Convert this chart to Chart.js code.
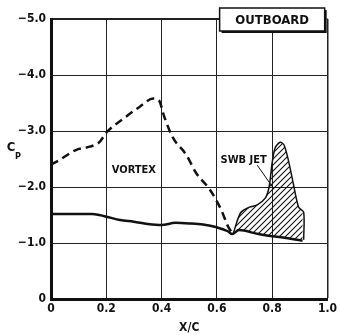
<!DOCTYPE html>
<html>
<head>
<meta charset="utf-8">
<script src="https://cdn.jsdelivr.net/npm/chart.js"></script>
<style>
  html, body { margin: 0; padding: 0; background: #fff; }
  #wrap { width: 340px; height: 335px; }
</style>
</head>
<body>
<div id="wrap"><canvas id="chart"></canvas></div>
<script>
// surface pressure, solid line
var surfX = [0, 0.1, 0.15, 0.2, 0.25, 0.3, 0.35, 0.4, 0.45, 0.5, 0.55, 0.6, 0.64, 0.655, 0.68, 0.75, 0.8, 0.85, 0.91];
var surfCp = [-1.52, -1.52, -1.52, -1.47, -1.41, -1.38, -1.34, -1.32, -1.36, -1.35, -1.33, -1.28, -1.21, -1.16, -1.23, -1.16, -1.12, -1.09, -1.04];

// vortex, dashed line
var vortX = [0, 0.03, 0.09, 0.14, 0.175, 0.2, 0.27, 0.32, 0.37, 0.39, 0.41, 0.44, 0.49, 0.525, 0.575, 0.615, 0.64, 0.655];
var vortCp = [-2.4, -2.48, -2.66, -2.72, -2.8, -2.97, -3.25, -3.43, -3.58, -3.55, -3.25, -2.89, -2.57, -2.25, -1.95, -1.6, -1.3, -1.18];

// SWB jet, hatched region upper edge
var jetX = [0.66, 0.686, 0.718, 0.746, 0.775, 0.789, 0.8, 0.811, 0.829, 0.843, 0.86, 0.879, 0.896, 0.914, 0.914];
var jetCp = [-1.18, -1.54, -1.64, -1.68, -1.8, -2.0, -2.43, -2.7, -2.8, -2.75, -2.45, -2.0, -1.64, -1.55, -1.06];

var xTicks = [0, 0.2, 0.4, 0.6, 0.8, 1.0];
var yTicks = [-5, -4, -3, -2, -1, 0];

var fontNarrow = "'Liberation Sans Narrow', 'DejaVu Sans Condensed', 'Liberation Sans', sans-serif";

function toPts(xs, ys) {
    return xs.map(function (x, i) { return { x: x, y: ys[i] }; });
}

function hatch() {
    var c = document.createElement('canvas');
    c.width = 6; c.height = 6;
    var g = c.getContext('2d');
    g.strokeStyle = '#111';
    g.lineWidth = 1.1;
    g.beginPath();
    g.moveTo(0, 6); g.lineTo(6, 0);
    g.moveTo(-1, 1); g.lineTo(1, -1);
    g.moveTo(5, 7); g.lineTo(7, 5);
    g.stroke();
    return g.createPattern(c, 'repeat');
}

var extras = {
    id: 'extras',
    afterDraw: function (chart) {
        var ctx = chart.ctx;
        var xs = chart.scales.x, ys = chart.scales.y;
        ctx.save();
        ctx.fillStyle = '#111';
        ctx.strokeStyle = '#111';
        ctx.textAlign = 'center';
        ctx.textBaseline = 'middle';
        ctx.font = 'bold 11px ' + fontNarrow;
        ctx.fillText('VORTEX', xs.getPixelForValue(0.3), ys.getPixelForValue(-2.3));
        ctx.fillText('SWB JET', xs.getPixelForValue(0.697), ys.getPixelForValue(-2.48));

        // leader line
        ctx.lineWidth = 1;
        ctx.beginPath();
        ctx.moveTo(xs.getPixelForValue(0.746), ys.getPixelForValue(-2.39));
        ctx.lineTo(xs.getPixelForValue(0.807), ys.getPixelForValue(-1.96));
        ctx.stroke();

        // OUTBOARD box
        var bx = xs.getPixelForValue(0.61), bw = xs.getPixelForValue(0.99) - bx;
        var by = 8, bh = 23;
        ctx.fillStyle = '#fff';
        ctx.fillRect(bx, by, bw + 2, bh + 2);
        ctx.fillStyle = '#111';
        ctx.fillRect(bx + 2, by + 2, bw, bh);
        ctx.fillStyle = '#fff';
        ctx.fillRect(bx, by, bw, bh);
        ctx.lineWidth = 1.5;
        ctx.strokeRect(bx, by, bw, bh);
        ctx.fillStyle = '#111';
        ctx.font = 'bold 13px ' + fontNarrow;
        ctx.fillText('OUTBOARD', bx + bw / 2, by + bh / 2 + 1);

        // axis title C_P
        ctx.font = 'bold 13px ' + fontNarrow;
        ctx.fillText('C', 11, 148);
        ctx.font = 'bold 9px ' + fontNarrow;
        ctx.fillText('P', 18, 157);
        ctx.restore();
    }
};

new Chart(document.getElementById('chart').getContext('2d'), {
    type: 'line',
    data: {
        datasets: [{
            label: 'surface',
            data: toPts(surfX, surfCp),
            borderColor: '#111',
            borderWidth: 2.5,
            pointRadius: 0,
            cubicInterpolationMode: 'monotone',
            fill: false
        }, {
            label: 'vortex',
            data: toPts(vortX, vortCp),
            borderColor: '#111',
            borderWidth: 2.5,
            borderDash: [8, 5],
            pointRadius: 0,
            cubicInterpolationMode: 'monotone',
            fill: false
        }, {
            label: 'SWB jet',
            data: toPts(jetX, jetCp),
            borderColor: '#111',
            borderWidth: 1.5,
            pointRadius: 0,
            tension: 0.3,
            backgroundColor: hatch(),
            fill: 0
        }]
    },
    options: {
        responsive: true,
        maintainAspectRatio: false,
        animation: false,
        layout: { padding: { left: 0, right: 9, top: 19, bottom: 0 } },
        plugins: {
            legend: { display: false },
            tooltip: { enabled: false }
        },
        scales: {
            x: {
                type: 'linear',
                min: 0,
                max: 1,
                afterBuildTicks: function (s) { s.ticks = xTicks.map(function (v) { return { value: v }; }); },
                afterFit: function (s) { s.height = 36; },
                ticks: {
                    color: '#111',
                    padding: 3,
                    maxRotation: 0,
                    font: { family: fontNarrow, size: 12, weight: 'bold' },
                    callback: function (v) { return v === 0 ? '0' : v.toFixed(1); }
                },
                grid: {
                    color: '#222',
                    lineWidth: function (c) { return c.tick && c.tick.value === 1 ? 1.5 : 1; },
                    drawTicks: false
                },
                border: { display: true, color: '#111', width: 3 },
                title: {
                    display: true,
                    text: 'X/C',
                    color: '#111',
                    padding: { top: 2, bottom: 0 },
                    font: { family: fontNarrow, size: 12, weight: 'bold' }
                }
            },
            y: {
                type: 'linear',
                min: -5,
                max: 0,
                reverse: true,
                afterBuildTicks: function (s) { s.ticks = yTicks.map(function (v) { return { value: v }; }); },
                afterFit: function (s) { s.width = 51; },
                ticks: {
                    color: '#111',
                    padding: 5,
                    font: { family: fontNarrow, size: 12, weight: 'bold' },
                    callback: function (v) { return v === 0 ? '0' : '\u2212' + Math.abs(v).toFixed(1); }
                },
                grid: {
                    color: '#222',
                    lineWidth: function (c) { return c.tick && c.tick.value === -5 ? 2 : 1; },
                    drawTicks: false
                },
                border: { display: true, color: '#111', width: 3 }
            }
        }
    },
    plugins: [extras]
});
</script>
</body>
</html>
